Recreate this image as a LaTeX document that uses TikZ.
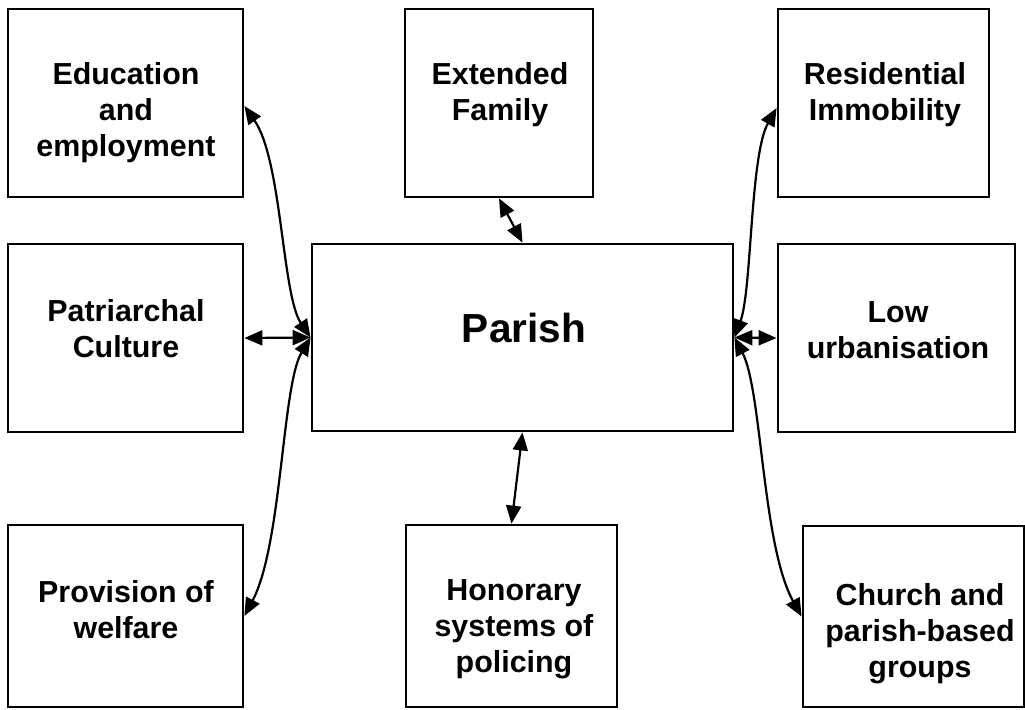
\documentclass[tikz,border=0pt]{standalone}
\usepackage{fontspec}
\setmainfont{Liberation Sans}
\usetikzlibrary{fit,arrows.meta}
\begin{document}
\begin{tikzpicture}[x=0.5pt,y=-0.5pt,
  box/.style={draw,line width=1.4pt,inner sep=0pt},
  lbl/.style={align=center,inner sep=0pt,font=\bfseries\fontsize{15.2}{18}\selectfont},
  big/.style={inner sep=0pt,font=\bfseries\fontsize{20.3}{24}\selectfont},
  link/.style={line width=1.1pt,{Triangle[length=9pt,width=7.5pt]}-{Triangle[length=9pt,width=7.5pt]}}]
\useasboundingbox (0,0) rectangle (1025,709);
% boxes
\node[box,fit={(8,9) (243,197)}] (edu) {};
\node[box,fit={(405,9) (593,197)}] (fam) {};
\node[box,fit={(778,9) (989,197)}] (res) {};
\node[box,fit={(8,244) (243,432)}] (pat) {};
\node[box,fit={(312,244) (733,431)}] (parish) {};
\node[box,fit={(778,244) (1015,432)}] (low) {};
\node[box,fit={(8,525) (243,707)}] (prov) {};
\node[box,fit={(406,525) (617,707)}] (hon) {};
\node[box,fit={(803,526) (1024,707)}] (church) {};
% labels
\node[lbl] (tedu) at (126,113) {Education\\and\\employment};
\node[lbl] (tfam) at (500,95) {Extended\\Family};
\node[lbl] (tres) at (885,95) {Residential\\Immobility};
\node[lbl] (tpat) at (126,329) {Patriarchal\\Culture};
\node[big] (tparish) at (524,328) {Parish};
\node[lbl] (tlow) at (898,330) {Low\\urbanisation};
\node[lbl] (tprov) at (126,610) {Provision of\\welfare};
\node[lbl] (thon) at (514,629) {Honorary\\systems of\\policing};
\node[lbl] (tchurch) at (920,634) {Church and\\parish-based\\groups};
% connectors
\draw[link] (fam.south) -- (parish.north);
\draw[link] (parish.south) -- (hon.north);
\draw[link] (parish.west) -- (pat.east);
\draw[link] (parish.east) -- (low.east -| low.west);
\draw[link] (parish.west) .. controls (282,295) and (282,160) .. ([yshift=-1.5pt]edu.east);
\draw[link] (parish.west) .. controls (282,385) and (282,545) .. (prov.east);
\draw[link] (parish.east) .. controls (752,290) and (750,155) .. ([yshift=-2.5pt]res.west);
\draw[link] (parish.east) .. controls (762,390) and (762,545) .. (church.west);
\end{tikzpicture}
\end{document}
